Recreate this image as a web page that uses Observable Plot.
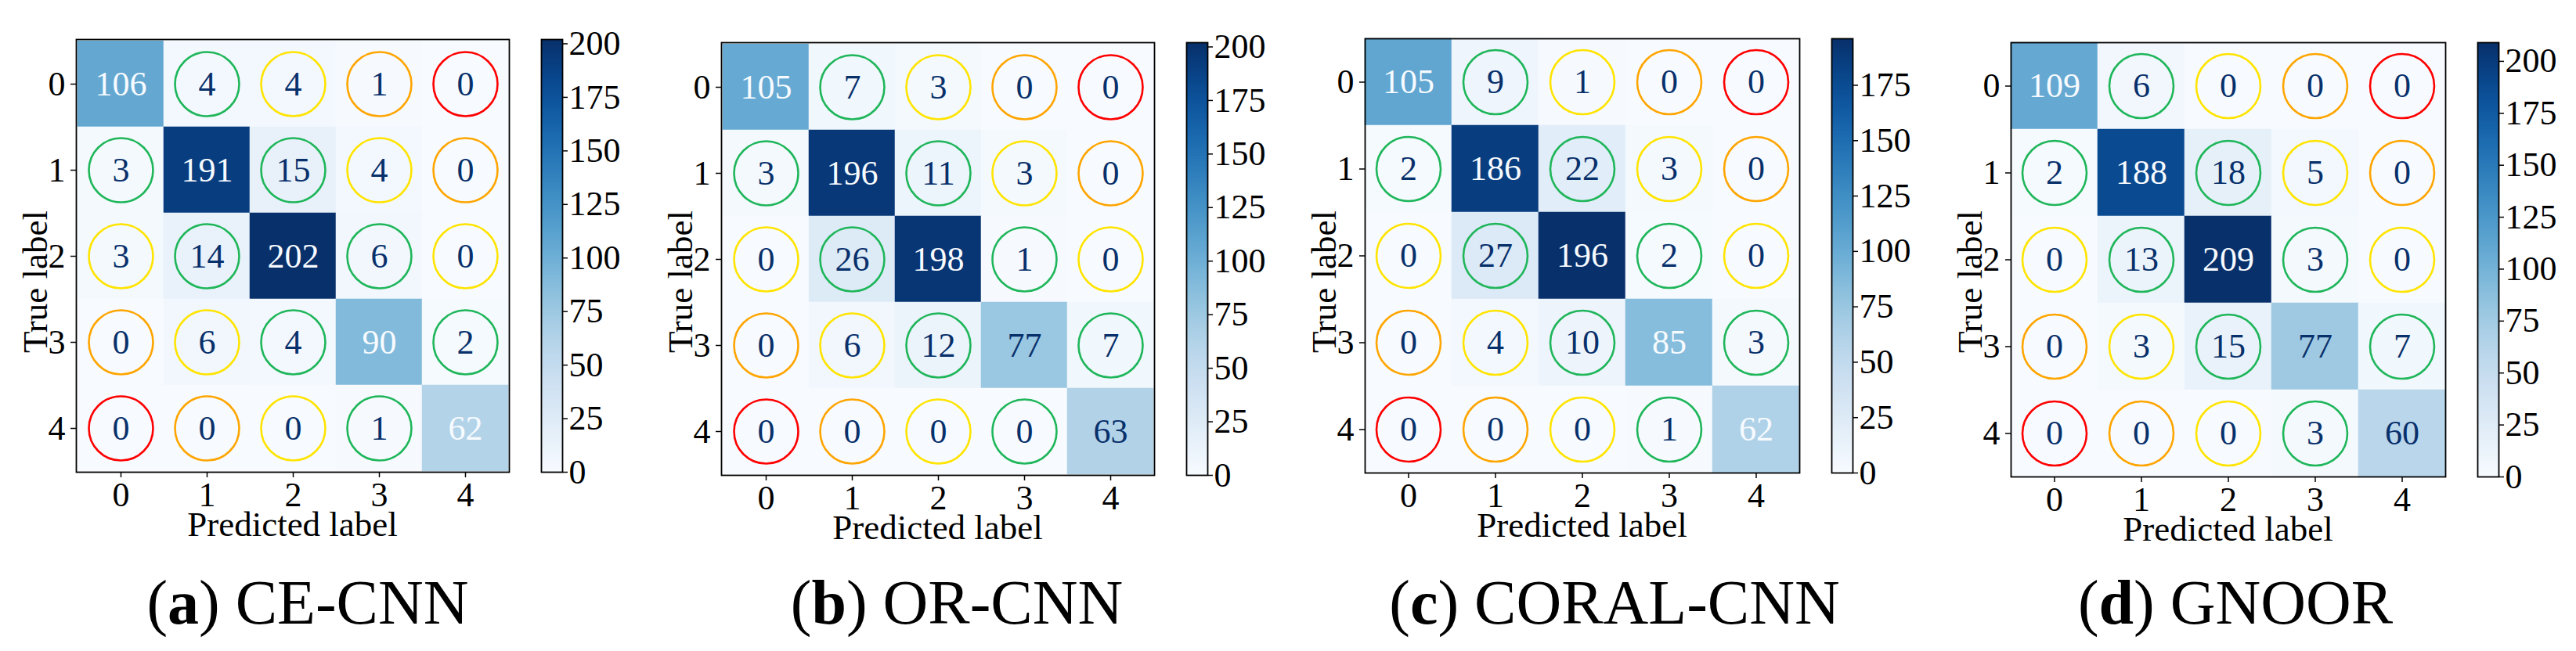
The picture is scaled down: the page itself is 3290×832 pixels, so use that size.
<!DOCTYPE html>
<html><head><meta charset="utf-8">
<script src="https://cdn.jsdelivr.net/npm/d3@7"></script>
<script src="https://cdn.jsdelivr.net/npm/@observablehq/plot@0.6"></script>
<style>
html,body{margin:0;padding:0;background:#fff;}
#fig{position:relative;width:3290px;height:832px;overflow:hidden;}
#fig > svg, #fig > div{position:absolute;}
</style></head><body><div id="fig"></div>
<script>
// ---------- data ----------
const classLabels = [0, 1, 2, 3, 4];
const panelLetters = ["a", "b", "c", "d"];
const panelNames = ["CE-CNN", "OR-CNN", "CORAL-CNN", "GNOOR"];
const ceCnn    = [[106,4,4,1,0],[3,191,15,4,0],[3,14,202,6,0],[0,6,4,90,2],[0,0,0,1,62]];
const orCnn    = [[105,7,3,0,0],[3,196,11,3,0],[0,26,198,1,0],[0,6,12,77,7],[0,0,0,0,63]];
const coralCnn = [[105,9,1,0,0],[2,186,22,3,0],[0,27,196,2,0],[0,4,10,85,3],[0,0,0,1,62]];
const gnoor    = [[109,6,0,0,0],[2,188,18,5,0],[0,13,209,3,0],[0,3,15,77,7],[0,0,0,3,60]];
const matrices = [ceCnn, orCnn, coralCnn, gnoor];
const colorMax = [202, 202, 196, 209];
const lightTextFrom = [50, 100, 50, 100];
const colorTicks = [0, 25, 50, 75, 100, 125, 150, 175, 200];
const xLabel = "Predicted label";
const yLabel = "True label";

// ---------- styles / layout ----------
const FONT = '"Liberation Serif","Times New Roman",serif';
const ringColors = ["#1fb65a", "#ffe400", "#ffa500", "#ff0000"];
const darkText = "#08306b", lightText = "#f7fbff";
const layout = [
  {left: 97,   top: 50, size: 553, capX: 393},
  {left: 921,  top: 54, size: 553, capX: 1222},
  {left: 1743, top: 49, size: 555, capX: 2062},
  {left: 2568, top: 54, size: 555, capX: 2855}
];
const fig = document.getElementById("fig");

matrices.forEach((m, p) => {
  const L = layout[p];
  const vmax = colorMax[p];
  const cells = [];
  m.forEach((row, i) => row.forEach((v, j) => cells.push({truth: i, pred: j, value: v})));
  const mL = 90, mR = 10, mT = 10, mB = 60;
  const heat = Plot.plot({
    width: L.size + mL + mR, height: L.size + mT + mB,
    marginLeft: mL, marginRight: mR, marginTop: mT, marginBottom: mB,
    style: {fontSize: "44px", fontFamily: FONT, background: "transparent", overflow: "visible", color: "#000"},
    x: {type: "band", domain: classLabels, padding: 0},
    y: {type: "band", domain: classLabels, padding: 0},
    color: {type: "linear", scheme: "blues", domain: [0, vmax]},
    marks: [
      Plot.cell(cells, {x: "pred", y: "truth", fill: "value", stroke: "value", strokeWidth: 0.5}),
      ...ringColors.map((c, k) => Plot.dot(cells.filter(d => Math.abs(d.pred - d.truth) === k + 1),
        {x: "pred", y: "truth", r: 41, stroke: c, strokeWidth: 2.6, fill: "none"})),
      Plot.text(cells.filter(d => d.value < lightTextFrom[p]), {x: "pred", y: "truth", text: d => String(d.value), fill: darkText, fontSize: 44}),
      Plot.text(cells.filter(d => d.value >= lightTextFrom[p]), {x: "pred", y: "truth", text: d => String(d.value), fill: lightText, fontSize: 44}),
      Plot.axisX({tickSize: 7, tickPadding: 5, label: null, fontSize: 44, strokeWidth: 1.5}),
      Plot.axisY({tickSize: 7, tickPadding: 7, label: null, fontSize: 44, strokeWidth: 1.5}),
      Plot.frame({stroke: "#000", strokeWidth: 1.8})
    ]
  });
  heat.style.left = (L.left - mL) + "px";
  heat.style.top = (L.top - mT) + "px";
  fig.appendChild(heat);

  // colorbar
  const cbW = 27, cbL = L.left + L.size + 41;
  const cT = 30, cB = 30, cR = 110;
  const bar = Plot.plot({
    width: cbW + cR, height: L.size + cT + cB,
    marginLeft: 0, marginRight: cR, marginTop: cT, marginBottom: cB,
    style: {fontSize: "44px", fontFamily: FONT, background: "transparent", overflow: "visible", color: "#000"},
    x: {domain: [0, 1], axis: null},
    y: {domain: [0, vmax], axis: null},
    color: {type: "linear", scheme: "blues", domain: [0, vmax]},
    marks: [
      Plot.raster({x1: 0, x2: 1, y1: 0, y2: vmax, width: 1, height: 400, fill: (x, y) => y}),
      Plot.axisY(colorTicks.filter(t => t <= vmax), {anchor: "right", tickSize: 6, tickPadding: 2, label: null, fontSize: 44, strokeWidth: 1.5}),
      Plot.frame({stroke: "#000", strokeWidth: 1.8})
    ]
  });
  bar.style.left = cbL + "px";
  bar.style.top = (L.top - cT) + "px";
  fig.appendChild(bar);
});

// ---------- labels & captions ----------
const over = d3.create("svg").attr("width", 3290).attr("height", 832)
  .style("left", "0px").style("top", "0px").style("font-family", FONT);
layout.forEach((L, p) => {
  over.append("text").attr("x", L.left + L.size / 2).attr("y", L.top + L.size + 82)
    .attr("text-anchor", "middle").attr("font-size", 45).attr("fill", "#000").text(xLabel);
  over.append("text").attr("transform", `translate(${L.left - 37},360) rotate(-90)`)
    .attr("text-anchor", "middle").attr("font-size", 45).attr("fill", "#000").text(yLabel);
  const cap = over.append("text").attr("x", L.capX).attr("y", 797)
    .attr("text-anchor", "middle").attr("font-size", 80).attr("fill", "#000");
  cap.append("tspan").text("(");
  cap.append("tspan").attr("font-weight", "bold").text(panelLetters[p]);
  cap.append("tspan").text(") " + panelNames[p]);
});
fig.appendChild(over.node());
</script></body></html>
